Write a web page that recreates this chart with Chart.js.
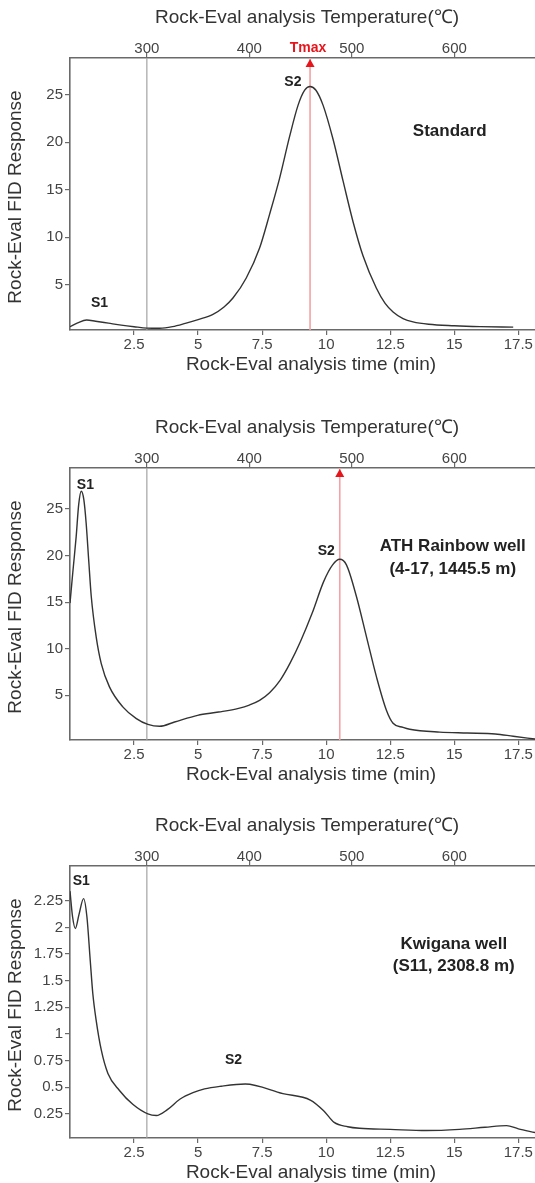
<!DOCTYPE html>
<html><head><meta charset="utf-8">
<script src="https://cdn.jsdelivr.net/npm/chart.js@4.4.1/dist/chart.umd.min.js"></script>
<style>
html,body{margin:0;padding:0;background:#fff;width:535px;height:1183px;overflow:hidden}
.p{position:absolute;left:0;width:535px;height:380px}
</style></head><body>
<div class="p" style="top:0"><canvas id="c1" width="535" height="380"></canvas></div>
<div class="p" style="top:410px"><canvas id="c2" width="535" height="380"></canvas></div>
<div class="p" style="top:808px"><canvas id="c3" width="535" height="380"></canvas></div>
<script>
// ---------- axis tick labels ----------
const timeTicks = [2.5, 5, 7.5, 10, 12.5, 15, 17.5];          // min
const tempTicks = [300, 400, 500, 600];                          // °C
const fidTicksA = [5, 10, 15, 20, 25];
const fidTicksC = [0.25, 0.5, 0.75, 1, 1.25, 1.5, 1.75, 2, 2.25];

// ---------- Rock-Eval program ----------
const holdEnd = 3;        // min (300 °C isothermal end)
const holdTemp = 300;     // °C
const heatRate = 25;      // °C/min
const timeMax = 18.15;

// ---------- Standard ----------
const stdTime = [0,0.3,0.65,1.0,1.5,2.0,2.5,3.0,3.5,4.0,4.5,5.0,5.58,6.0,6.36,6.88,7.4,7.79,8.18,8.57,8.9,9.16,9.37,9.6,9.88,10.27,10.66,11.05,11.44,11.96,12.3,12.61,13.0,13.39,14.0,15.0,16.0,17.3];
const stdFID  = [0.55,0.95,1.25,1.12,0.92,0.72,0.55,0.4,0.38,0.55,0.9,1.3,1.85,2.6,3.57,5.69,8.85,12.4,16.2,20.6,23.9,25.5,25.9,25.5,23.9,20.3,15.9,11.6,8.0,4.6,3.0,2.1,1.4,1.05,0.8,0.65,0.56,0.5];
const stdTmax = 9.37;

// ---------- ATH Rainbow well ----------
const athTime = [0,0.12,0.24,0.34,0.44,0.54,0.63,0.73,0.83,1.02,1.22,1.54,2.06,2.59,3.04,3.5,4.08,4.98,5.8,6.58,7.0,7.4,7.8,8.2,8.6,9.0,9.45,9.9,10.25,10.53,10.79,11.18,11.57,11.96,12.35,12.61,13.0,13.26,14.43,15.5,16.6,17.3,18.15];
const athFID  = [14.9,18.5,22.0,25.5,26.9,26.0,23.5,19.5,15.6,11.3,8.4,5.9,3.76,2.5,1.88,1.67,2.13,2.85,3.2,3.6,3.95,4.45,5.3,6.6,8.5,10.8,13.8,17.2,19.0,19.6,19.0,15.6,11.3,7.0,3.4,2.0,1.55,1.35,1.05,0.95,0.85,0.6,0.3];
const athTmax = 10.53;

// ---------- Kwigana well ----------
const kwgTime = [0,0.1,0.21,0.35,0.53,0.66,0.79,0.89,1.02,1.22,1.48,1.93,2.45,3.04,3.37,3.8,4.3,4.8,5.25,5.9,6.84,8.31,9.38,9.9,10.31,10.84,11.3,12.5,13.9,15.2,16.2,17.04,17.5,18.15];
const kwgFID  = [2.34,2.1,1.99,2.12,2.27,2.1,1.69,1.38,1.13,0.85,0.63,0.47,0.34,0.25,0.235,0.29,0.39,0.45,0.485,0.51,0.53,0.44,0.38,0.28,0.17,0.13,0.115,0.105,0.094,0.105,0.125,0.14,0.11,0.075];

const FONT = "'Liberation Sans', Arial, Helvetica, sans-serif";
const AXIS = '#6a6a6a';
const tempAt = t => holdTemp + heatRate * (t - holdEnd);

const textPlugin = {
  id: 'texts',
  afterDatasetsDraw(chart) {
    const o = chart.options.plugins.texts;
    const {ctx, chartArea: a, scales} = chart;
    const xs = scales.x, ys = scales.y;
    ctx.save();
    // Tmax marker
    if (o.tmax !== null) {
      const px = xs.getPixelForValue(o.tmax);
      ctx.fillStyle = '#e8141b';
      ctx.beginPath();
      ctx.moveTo(px, a.top + 1);
      ctx.lineTo(px - 4.5, a.top + 9);
      ctx.lineTo(px + 4.5, a.top + 9);
      ctx.closePath();
      ctx.fill();
      if (o.tmaxLabel) {
        ctx.font = 'bold 14px ' + FONT;
        ctx.textAlign = 'center';
        ctx.textBaseline = 'middle';
        ctx.fillText('Tmax', px - 2, a.top - 10);
      }
    }
    // annotations
    ctx.fillStyle = '#222';
    ctx.textAlign = 'center';
    ctx.textBaseline = 'middle';
    o.notes.forEach(n => {
      ctx.font = 'bold ' + n.size + 'px ' + FONT;
      ctx.fillText(n.text, xs.getPixelForValue(n.t), ys.getPixelForValue(n.v));
    });
    // axis titles
    ctx.fillStyle = '#333';
    ctx.font = '19px ' + FONT;
    ctx.fillText('Rock-Eval analysis Temperature(\u2103)', 307, a.top - 40);
    ctx.fillText('Rock-Eval analysis time (min)', 311, a.bottom + 35);
    ctx.translate(16, (a.top + a.bottom) / 2 + 3);
    ctx.rotate(-Math.PI / 2);
    ctx.fillText('Rock-Eval FID Response', 0, 0);
    ctx.restore();
  }
};

function makeChart(id, time, fid, yMin, yMax, yTicks, tmax, tmaxLabel, notes) {
  const datasets = [
    {data: time.map((t, i) => ({x: t, y: fid[i]})), borderColor: '#333', borderWidth: 1.4,
     pointRadius: 0, cubicInterpolationMode: 'monotone', fill: false},
    {data: [{x: holdEnd, y: yMin}, {x: holdEnd, y: yMax}], borderColor: '#a3a3a3', borderWidth: 1.2, pointRadius: 0}
  ];
  if (tmax !== null) datasets.push({data: [{x: tmax, y: yMin}, {x: tmax, y: yMax}], borderColor: '#f3a3a3', borderWidth: 1.6, pointRadius: 0});
  const tickFont = {family: FONT, size: 15};
  const grid = {display: true, drawOnChartArea: false, drawTicks: true, tickLength: 5, tickColor: AXIS, lineWidth: 1.2};
  const border = {display: true, color: AXIS, width: 1.6};
  return new Chart(document.getElementById(id), {
    type: 'line',
    data: {datasets},
    plugins: [textPlugin],
    options: {
      responsive: false, animation: false, devicePixelRatio: 1,
      layout: {padding: 0},
      plugins: {legend: {display: false}, tooltip: {enabled: false},
                texts: {tmax, tmaxLabel, notes}},
      scales: {
        x: {type: 'linear', position: 'bottom', min: 0, max: timeMax,
            afterBuildTicks: s => { s.ticks = timeTicks.map(v => ({value: v})); },
            afterFit: s => { s.height = 50; },
            grid, border,
            ticks: {color: '#444', font: tickFont, padding: 1, maxRotation: 0, autoSkip: false, callback: v => String(v)}},
        x2: {type: 'linear', position: 'top', min: tempAt(0), max: tempAt(timeMax),
            afterBuildTicks: s => { s.ticks = tempTicks.map(v => ({value: v})); },
            afterFit: s => { s.height = 58; },
            grid, border,
            ticks: {color: '#444', font: tickFont, padding: -5, maxRotation: 0, autoSkip: false, callback: v => String(v)}},
        y: {type: 'linear', position: 'left', min: yMin, max: yMax,
            afterBuildTicks: s => { s.ticks = yTicks.map(v => ({value: v})); },
            afterFit: s => { s.width = 70; },
            grid, border,
            ticks: {color: '#444', font: tickFont, padding: 2, autoSkip: false, callback: v => String(v)}}
      }
    }
  });
}

makeChart('c1', stdTime, stdFID, 0.2, 28.9, fidTicksA, stdTmax, true, [
  {text: 'S1', t: 1.15, v: 3.08, size: 14},
  {text: 'S2', t: 8.70, v: 26.37, size: 14},
  {text: 'Standard', t: 14.82, v: 21.13, size: 17}
]);
makeChart('c2', athTime, athFID, 0.2, 29.4, fidTicksA, athTmax, false, [
  {text: 'S1', t: 0.6, v: 27.6, size: 14},
  {text: 'S2', t: 10.0, v: 20.43, size: 14},
  {text: 'ATH Rainbow well', t: 14.94, v: 21.0, size: 17},
  {text: '(4-17, 1445.5 m)', t: 14.94, v: 18.57, size: 17}
]);
makeChart('c3', kwgTime, kwgFID, 0.024, 2.576, fidTicksC, null, false, [
  {text: 'S1', t: 0.44, v: 2.43, size: 14},
  {text: 'S2', t: 6.38, v: 0.758, size: 14},
  {text: 'Kwigana well', t: 14.98, v: 1.843, size: 17},
  {text: '(S11, 2308.8 m)', t: 14.98, v: 1.636, size: 17}
]);
</script>
</body></html>
